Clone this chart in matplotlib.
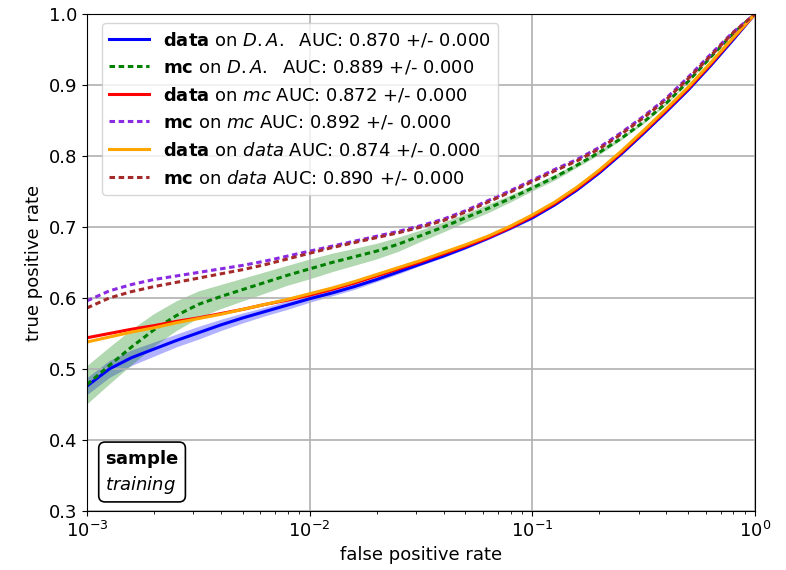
import numpy as np
import matplotlib
matplotlib.use("Agg")
import matplotlib.pyplot as plt

# log10 of false positive rate
log_fpr = [-3.0, -2.9, -2.8, -2.7, -2.6, -2.5, -2.4, -2.3, -2.2, -2.1,
           -2.0, -1.9, -1.8, -1.7, -1.6, -1.5, -1.4, -1.3, -1.2, -1.1,
           -1.0, -0.9, -0.8, -0.7, -0.6, -0.5, -0.4, -0.3, -0.2, -0.1, 0.0]

tpr_data_on_da = [0.476, 0.500, 0.516, 0.528, 0.540, 0.551, 0.562, 0.572, 0.581, 0.590,
                  0.599, 0.607, 0.616, 0.626, 0.637, 0.648, 0.659, 0.671, 0.684, 0.698,
                  0.713, 0.731, 0.752, 0.776, 0.803, 0.832, 0.862, 0.893, 0.927, 0.963, 1.0]
err_data_on_da = [0.012, 0.012, 0.011, 0.010, 0.009, 0.009, 0.008, 0.007, 0.006, 0.006,
                  0.005, 0.004, 0.004, 0.003, 0.003, 0.002, 0.002, 0.002, 0.002, 0.002,
                  0.002, 0.001, 0.001, 0.001, 0.001, 0.001, 0.001, 0.001, 0.0, 0.0, 0.0]

tpr_mc_on_da = [0.478, 0.505, 0.531, 0.555, 0.575, 0.591, 0.602, 0.612, 0.622, 0.632,
                0.641, 0.650, 0.658, 0.666, 0.676, 0.688, 0.700, 0.713, 0.726, 0.740,
                0.755, 0.770, 0.787, 0.805, 0.825, 0.848, 0.874, 0.905, 0.939, 0.972, 1.0]
err_mc_on_da = [0.027, 0.026, 0.025, 0.023, 0.021, 0.019, 0.017, 0.016, 0.015, 0.014,
                0.014, 0.013, 0.012, 0.011, 0.010, 0.008, 0.007, 0.006, 0.006, 0.005,
                0.004, 0.004, 0.003, 0.003, 0.002, 0.002, 0.002, 0.001, 0.001, 0.0, 0.0]

tpr_data_on_mc = [0.544, 0.550, 0.556, 0.561, 0.567, 0.572, 0.578, 0.584, 0.591, 0.597,
                  0.604, 0.612, 0.621, 0.631, 0.641, 0.651, 0.662, 0.673, 0.685, 0.699,
                  0.715, 0.733, 0.754, 0.778, 0.805, 0.834, 0.864, 0.895, 0.929, 0.965, 1.0]

tpr_mc_on_mc = [0.596, 0.610, 0.619, 0.626, 0.631, 0.636, 0.641, 0.646, 0.652, 0.659,
                0.666, 0.673, 0.680, 0.687, 0.694, 0.702, 0.711, 0.723, 0.737, 0.751,
                0.766, 0.781, 0.795, 0.812, 0.833, 0.856, 0.881, 0.911, 0.943, 0.974, 1.0]

tpr_data_on_data = [0.538, 0.545, 0.552, 0.558, 0.565, 0.571, 0.577, 0.584, 0.591, 0.598,
                    0.606, 0.614, 0.623, 0.633, 0.643, 0.653, 0.664, 0.675, 0.687, 0.701,
                    0.717, 0.735, 0.756, 0.780, 0.807, 0.836, 0.866, 0.897, 0.931, 0.966, 1.0]

tpr_mc_on_data = [0.586, 0.600, 0.609, 0.616, 0.622, 0.628, 0.634, 0.640, 0.647, 0.655,
                  0.663, 0.671, 0.678, 0.685, 0.692, 0.700, 0.709, 0.721, 0.735, 0.749,
                  0.764, 0.779, 0.793, 0.810, 0.831, 0.854, 0.879, 0.909, 0.941, 0.973, 1.0]

labels = [
    r"$\bf{data}$ on $D.A.$  AUC: 0.870 +/- 0.000",
    r"$\bf{mc}$ on $D.A.$  AUC: 0.889 +/- 0.000",
    r"$\bf{data}$ on $\it{mc}$ AUC: 0.872 +/- 0.000",
    r"$\bf{mc}$ on $\it{mc}$ AUC: 0.892 +/- 0.000",
    r"$\bf{data}$ on $\it{data}$ AUC: 0.874 +/- 0.000",
    r"$\bf{mc}$ on $\it{data}$ AUC: 0.890 +/- 0.000",
]

plt.rcParams["font.size"] = 13
fig = plt.figure(figsize=(7.86, 5.70), dpi=100)
L, R, T, B = 87, 755, 14, 511
ax = fig.add_axes([L / 786, 1 - B / 570, (R - L) / 786, (B - T) / 570])

fpr = 10 ** np.array(log_fpr)

def band(y, e, color):
    y = np.array(y); e = np.array(e)
    ax.fill_between(fpr, y - e, y + e, color=color, alpha=0.3, lw=0)

DOT = (1.8, 1.2)
band(tpr_data_on_da, err_data_on_da, "blue")
ax.plot(fpr, tpr_data_on_da, color="blue", lw=2.2, label=labels[0])
band(tpr_mc_on_da, err_mc_on_da, "green")
ax.plot(fpr, tpr_mc_on_da, color="green", lw=2.2, dashes=DOT, label=labels[1])
ax.plot(fpr, tpr_data_on_mc, color="red", lw=2.2, label=labels[2])
ax.plot(fpr, tpr_mc_on_mc, color="blueviolet", lw=2.2, dashes=DOT, label=labels[3])
ax.plot(fpr, tpr_data_on_data, color="orange", lw=2.2, label=labels[4])
ax.plot(fpr, tpr_mc_on_data, color="brown", lw=2.2, dashes=DOT, label=labels[5])

ax.set_xscale("log")
ax.set_xlim(1e-3, 1)
ax.set_ylim(0.3, 1.0)
ax.set_yticks(np.arange(0.3, 1.01, 0.1))
ax.grid(True, which="major", color="#b0b0b0", lw=1.2)
ax.set_xlabel("false positive rate")
ax.set_ylabel("true positive rate")
ax.legend(loc="upper left", bbox_to_anchor=(0.009, 1.0), handlelength=2.2)

ax.text(0.027, 0.031, r"$\bf{sample}$" + "\n" + r"$\it{training}$",
        transform=ax.transAxes, ha="left", va="bottom", fontsize=13,
        bbox=dict(boxstyle="round,pad=0.35", facecolor="white", edgecolor="black", lw=1.2))

fig.savefig("out.png", dpi=100)
